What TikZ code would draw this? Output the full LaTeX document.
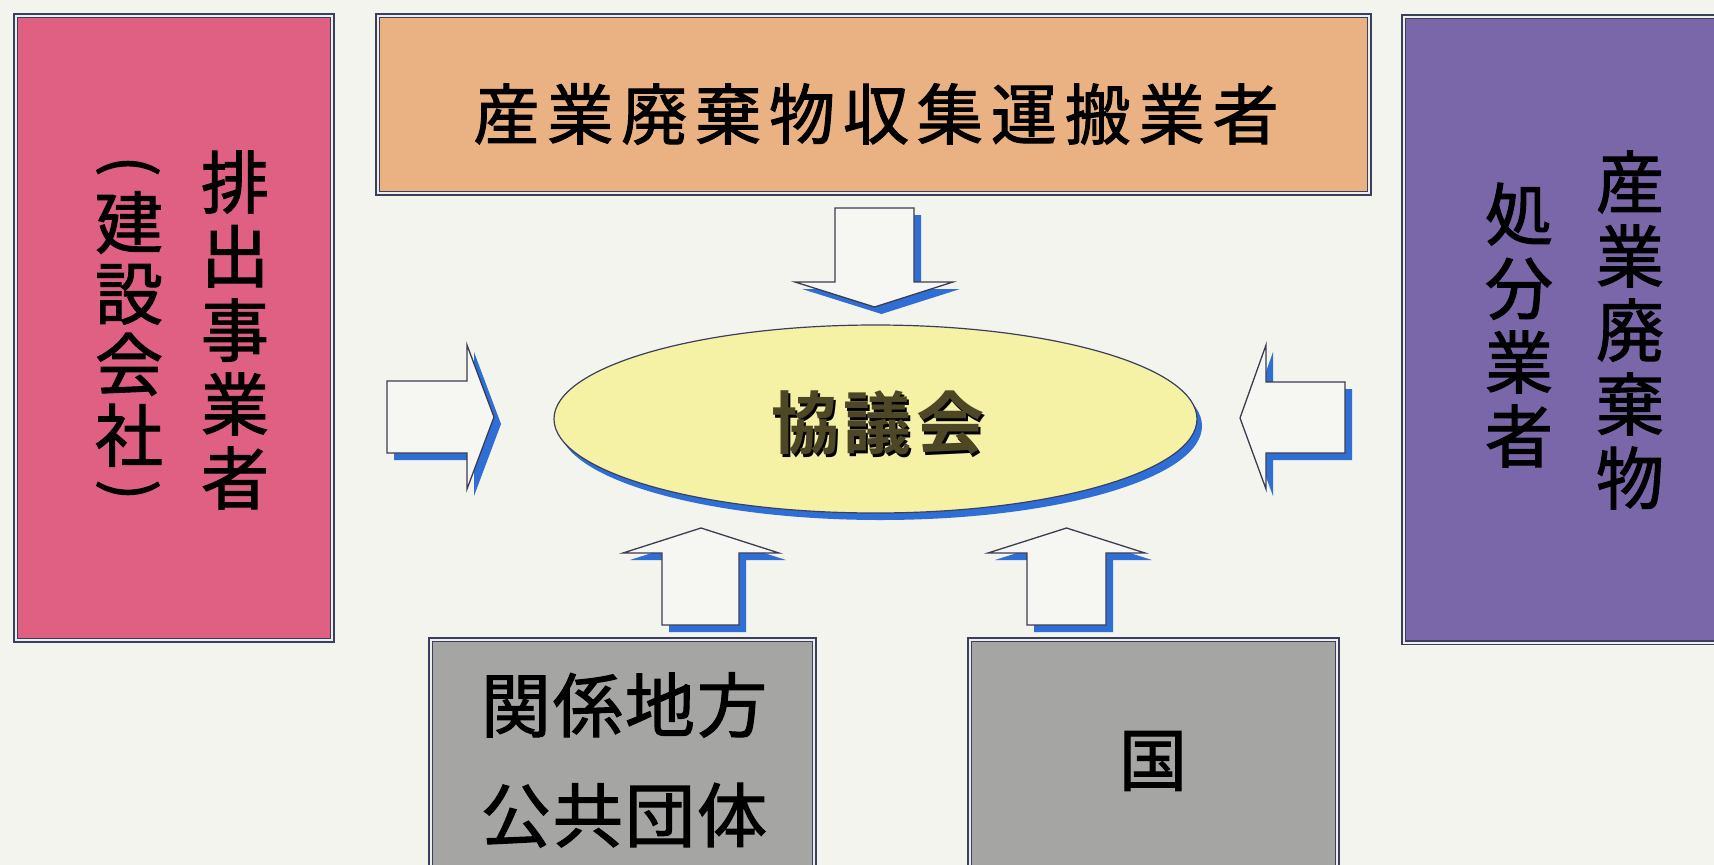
\documentclass[tikz,border=0pt]{standalone}
\usepackage{fontspec}
\usetikzlibrary{shapes.geometric,shadows}
\newfontfamily\cjk[FakeBold=1.6]{Noto Sans CJK JP}
\newfontfamily\cjkwide[LetterSpace=12,FakeBold=1.6]{Noto Sans CJK JP}
\newfontfamily\cjkmid[LetterSpace=3,FakeBold=1.6]{Noto Sans CJK JP}
\newfontfamily\cjkbold[LetterSpace=6]{Noto Sans CJK JP Bold}
\definecolor{bg}{HTML}{F3F4EE}
\definecolor{edge}{HTML}{3A3F5E}
\definecolor{gapc}{HTML}{EEEEEA}
\definecolor{pinkc}{HTML}{DF6082}
\definecolor{orangec}{HTML}{EAB283}
\definecolor{purplec}{HTML}{7A67AA}
\definecolor{grayc}{HTML}{A5A5A3}
\definecolor{yellowc}{HTML}{F5F2A6}
\definecolor{shadowblue}{HTML}{2F6ED4}
\definecolor{arrline}{HTML}{3C3C50}
\definecolor{arrfill}{HTML}{F6F7F2}
\definecolor{olivec}{HTML}{4E4726}
\begin{document}
\begin{tikzpicture}[x=1pt,y=-1pt,
  box/.style={rectangle, draw=edge, double=gapc, double distance=2pt, line width=1.4pt, inner sep=0pt},
  arr/.style={draw=arrline, line width=1.3pt, fill=arrfill, line join=miter,
    drop shadow={shadow xshift=7pt, shadow yshift=-7pt, fill=shadowblue, opacity=1}},
  vtext/.style={align=center, font=\cjk\fontsize{68}{74}\selectfont, inner sep=0pt, text=black},
  htext/.style={inner sep=0pt, text=black},
  paren/.style={inner sep=0pt, text=black, rotate=-90, font=\cjk\fontsize{62}{62}\selectfont}]
\useasboundingbox[fill=bg] (0,0) rectangle (1714,865);
\clip (0,0) rectangle (1714,865);
% boxes
\node[box, fill=pinkc, minimum width=316.8pt, minimum height=624.8pt] (haishutsu) at (174,328) {};
\node[box, fill=orangec, minimum width=991.8pt, minimum height=177.8pt] (unpan) at (873.5,104.5) {};
\node[box, fill=purplec, minimum width=340pt, minimum height=626pt] (shobun) at (1573.6,329.5) {};
\node[box, fill=grayc, minimum width=383.8pt, minimum height=250pt] (chiho) at (622.5,764.6) {};
\node[box, fill=grayc, minimum width=367.8pt, minimum height=250pt] (kuni) at (1153.5,764.6) {};
% texts in boxes
\node[vtext] (haishutsuA) at (235,330) {排\\出\\事\\業\\者};
\node[vtext, font=\cjk\fontsize{68}{71}\selectfont] (haishutsuB) at (129,329) {建\\設\\会\\社};
\node[paren] (parenL) at (128,166) {(};
\node[paren] (parenR) at (128,490) {)};
\node[htext, font=\cjkwide\fontsize{66}{70}\selectfont] (unpanT) at (876,114) {産業廃棄物収集運搬業者};
\node[vtext] (shobunA) at (1630,330) {産\\業\\廃\\棄\\物};
\node[vtext] (shobunB) at (1519,325) {処\\分\\業\\者};
\node[htext, align=center, font=\cjkmid\fontsize{70}{110}\selectfont] (chihoT) at (624,760) {関係地方\\公共団体};
\node[htext, font=\cjk\fontsize{68}{70}\selectfont] (kuniT) at (1153,761) {国};
% block arrows
\path[arr] (387,381) -- (467,381) -- (467,345) -- (494,417) -- (467,489) -- (467,453) -- (387,453) -- cycle;
\path[arr] (1345,382) -- (1266,382) -- (1266,345) -- (1240,418) -- (1266,489) -- (1266,453) -- (1345,453) -- cycle;
\path[arr] (835,208) -- (914,208) -- (914,282) -- (953,282) -- (874.5,307) -- (795,282) -- (835,282) -- cycle;
\path[arr] (662,625) -- (662,553) -- (623,553) -- (701,528) -- (779,553) -- (739,553) -- (739,625) -- cycle;
\path[arr] (1027,625) -- (1027,553) -- (988,553) -- (1066.5,528) -- (1145,553) -- (1106,553) -- (1106,625) -- cycle;
% council
\node[ellipse, draw=edge, line width=1.2pt, fill=yellowc, minimum width=643pt, minimum height=188pt,
  drop shadow={shadow xshift=5pt, shadow yshift=-7pt, fill=shadowblue, opacity=1}] (council) at (875.5,419) {};
\node[htext, text=black, font=\cjkbold\fontsize{68}{70}\selectfont] (councilshade) at (880,426) {協議会};
\node[htext, text=olivec, font=\cjkbold\fontsize{68}{70}\selectfont] (councilword) at (878,423) {協議会};
\end{tikzpicture}
\end{document}
